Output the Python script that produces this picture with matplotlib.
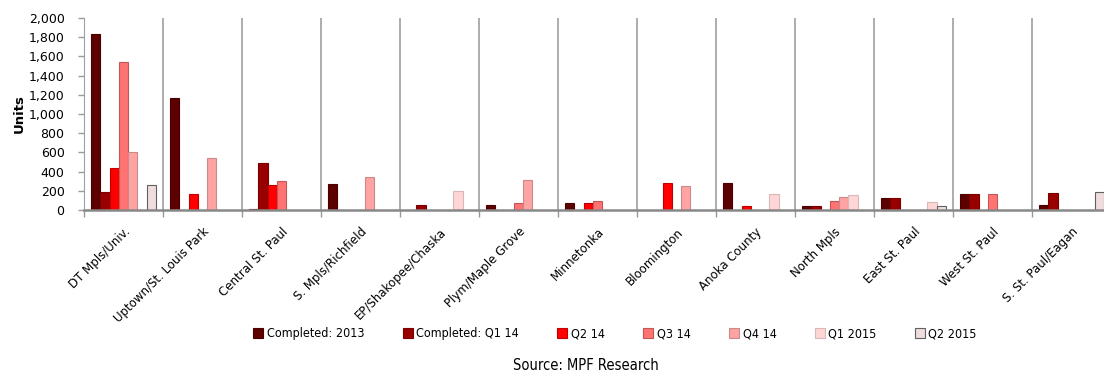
import matplotlib
matplotlib.use("Agg")
import matplotlib.pyplot as plt
import numpy as np
from matplotlib.patches import Patch

# Apartment deliveries by submarket, units
submarkets = ["DT Mpls/Univ.", "Uptown/St. Louis Park", "Central St. Paul",
              "S. Mpls/Richfield", "EP/Shakopee/Chaska", "Plym/Maple Grove",
              "Minnetonka", "Bloomington", "Anoka County", "North Mpls",
              "East St. Paul", "West St. Paul", "S. St. Paul/Eagan"]

series_names = ["Completed: 2013", "Completed: Q1 14", "Q2 14", "Q3 14",
                "Q4 14", "Q1 2015", "Q2 2015"]

completed_2013 = [1835, 1165, 15, 275, 0, 50, 70, 0, 280, 40, 120, 165, 50]
completed_q1_14 = [185, 0, 487, 0, 50, 0, 0, 0, 0, 40, 120, 165, 175]
q2_14 = [435, 170, 260, 0, 0, 0, 70, 280, 40, 0, 0, 0, 0]
q3_14 = [1540, 0, 300, 0, 0, 70, 90, 0, 0, 90, 0, 165, 0]
q4_14 = [600, 540, 0, 340, 0, 310, 0, 250, 0, 135, 0, 0, 0]
q1_2015 = [0, 0, 0, 0, 195, 0, 0, 0, 170, 155, 85, 0, 0]
q2_2015 = [265, 0, 0, 0, 0, 0, 0, 0, 0, 0, 40, 0, 190]

values = [completed_2013, completed_q1_14, q2_14, q3_14, q4_14, q1_2015, q2_2015]
fills = ["#5c0000", "#990000", "#ff0000", "#ff7373", "#ffa3a3", "#ffd5d5", "#f0dcdc"]
edges = ["#4a0000", "#7a0000", "#c00000", "#c05858", "#c88a8a", "#d8b8b8", "#606060"]

narrow = {"family": "DejaVu Sans", "stretch": "condensed"}

fig = plt.figure(figsize=(11.04, 3.73), dpi=100)
ax = fig.add_axes([84 / 1104, 1 - 210 / 373, 1027 / 1104, 192 / 373])

x = np.arange(len(submarkets))
w = 0.118
for i, (vals, fc, ec) in enumerate(zip(values, fills, edges)):
    v = np.array(vals, dtype=float)
    keep = v > 0
    ax.bar(x[keep] + (i - 3) * w, v[keep], width=w, color=fc,
           edgecolor=ec, linewidth=0.8, zorder=3)

ax.set_xlim(-0.5, len(submarkets) - 0.5)
ax.set_ylim(0, 2000)
ax.set_yticks(np.arange(0, 2001, 200))
ax.set_yticklabels([f"{t:,}" for t in range(0, 2001, 200)], fontsize=9)

# category labels on the major ticks, separators on the minor ticks
ax.set_xticks(x)
ax.set_xticklabels(submarkets, rotation=45, ha="right", rotation_mode="anchor",
                   fontsize=8.5)
ax.tick_params(axis="x", which="major", length=0, pad=11)
ax.set_xticks(np.arange(len(submarkets)) - 0.5, minor=True)
ax.tick_params(axis="x", which="minor", length=5, color="#999999", width=1)
ax.grid(axis="x", which="minor", color="#a0a0a0", linewidth=1.2, zorder=0)
ax.tick_params(axis="y", length=4, color="#999999", width=1, pad=10)

for side in ["top", "right"]:
    ax.spines[side].set_visible(False)
ax.spines["left"].set_color("#a0a0a0")
ax.spines["bottom"].set_color("#888888")
ax.spines["bottom"].set_linewidth(1.8)
ax.spines["bottom"].set_zorder(4)

fig.text(19 / 1104, 1 - 114 / 373, "Units", rotation=90, fontsize=9.5,
         fontweight="bold", ha="center", va="center")

handles = [Patch(facecolor=fc, edgecolor=ec, linewidth=0.8)
           for fc, ec in zip(fills, edges)]
fig.legend(handles, series_names, loc="center", ncol=7, frameon=False,
           bbox_to_anchor=(615 / 1104, 1 - 334 / 373),
           prop=dict(narrow, size=9),
           handlelength=0.8, handleheight=0.8, handletextpad=0.3,
           columnspacing=3.05)

fig.text(586 / 1104, 1 - 366 / 373, "Source: MPF Research", ha="center",
         va="center", fontsize=10.5, **narrow)

fig.savefig("out.png", dpi=100)
